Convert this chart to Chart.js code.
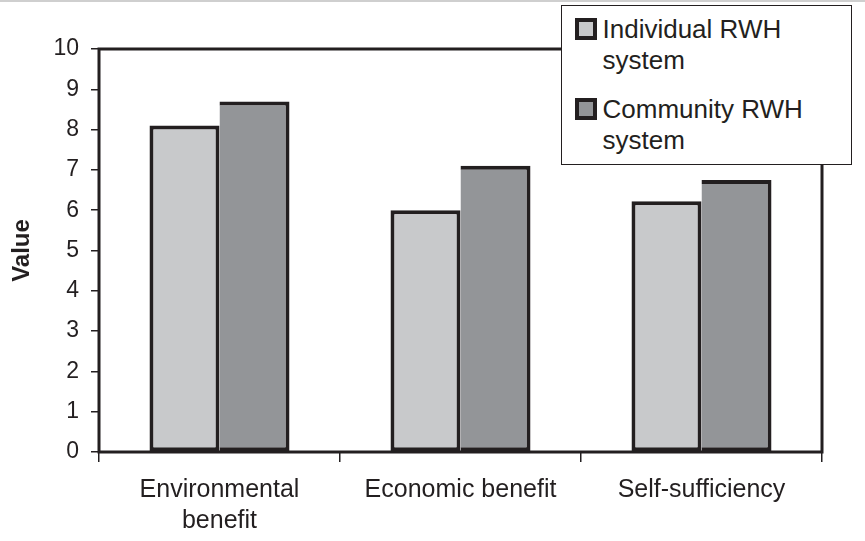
<!DOCTYPE html>
<html>
<head>
<meta charset="utf-8">
<script src="https://cdn.jsdelivr.net/npm/chart.js@4.4.1/dist/chart.umd.min.js"></script>
<style>
    body { margin: 0; background: #fff; font-family: "Liberation Sans", Arial, sans-serif; }
    #wrap { position: relative; width: 865px; height: 541px; }
    #topLine { position: absolute; left: 0; top: 0; width: 865px; height: 2px; background: #cfcfcf; }
    #legendBox {
        position: absolute; left: 561px; top: 5px; width: 289px; height: 158px;
        border: 1.5px solid #231f20; background: #fff; color: #231f20;
    }
    .item { position: absolute; left: 12.5px; font-size: 26px; line-height: 31px; }
    .swatch { position: absolute; left: 0; top: 3.5px; width: 14px; height: 14px; border: 4px solid #231f20; }
    .item span { position: absolute; left: 28px; top: 0; white-space: nowrap; }
</style>
</head>
<body>
<div id="wrap">
    <canvas id="rwhChart"></canvas>
    <div id="topLine"></div>
    <div id="legendBox"></div>
</div>
<script>
// Datos
const categories = [["Environmental", "benefit"], "Economic benefit", "Self-sufficiency"];
const individualValues = [8.1, 6.0, 6.22];
const communityValues = [8.7, 7.1, 6.75];
const seriesNames = [["Individual RWH", "system"], ["Community RWH", "system"]];
const yTicks = [0, 1, 2, 3, 4, 5, 6, 7, 8, 9, 10];

const INK = "#231f20";
const LIGHT = "#c8c9cb";
const DARK = "#939598";
const FONT = "'Liberation Sans', Arial, sans-serif";

// Marco completo alrededor del área del gráfico
const plotFrame = {
    id: "plotFrame",
    beforeDatasetsDraw(chart) {
        const { ctx, chartArea: a } = chart;
        ctx.save();
        ctx.strokeStyle = INK;
        ctx.lineWidth = 3;
        ctx.strokeRect(a.left, a.top, a.right - a.left, a.bottom - a.top);
        ctx.restore();
    }
};

const ctx = document.getElementById("rwhChart").getContext("2d");
const rwhChart = new Chart(ctx, {
    type: "bar",
    data: {
        labels: categories,
        datasets: [
            {
                label: seriesNames[0].join(" "),
                data: individualValues,
                backgroundColor: LIGHT,
                borderColor: INK,
                borderWidth: 4,
                borderSkipped: false
            },
            {
                label: seriesNames[1].join(" "),
                data: communityValues,
                backgroundColor: DARK,
                borderColor: INK,
                borderWidth: { top: 4, right: 4, bottom: 4, left: 0 },
                borderSkipped: false
            }
        ]
    },
    options: {
        responsive: true,
        maintainAspectRatio: false,
        animation: false,
        layout: { padding: { top: 49, right: 43, bottom: 0, left: 0 } },
        datasets: { bar: { categoryPercentage: 0.581, barPercentage: 1.0 } },
        plugins: {
            legend: { display: false },
            tooltip: { enabled: false }
        },
        scales: {
            x: {
                offset: true,
                border: { display: false },
                grid: { offset: true, drawOnChartArea: false, drawTicks: true, tickLength: 10, color: INK, lineWidth: 1.5 },
                ticks: {
                    color: INK,
                    padding: 12,
                    maxRotation: 0,
                    font: { family: FONT, size: 25, lineHeight: 1.25 }
                },
                afterFit: scale => { scale.height = 89; }
            },
            y: {
                min: 0,
                max: 10,
                border: { display: false },
                grid: { drawOnChartArea: false, drawTicks: true, tickLength: 8, color: INK, lineWidth: 1.5 },
                afterBuildTicks: scale => { scale.ticks = yTicks.map(v => ({ value: v })); },
                ticks: {
                    color: INK,
                    padding: 12,
                    font: { family: FONT, size: 23 }
                },
                title: {
                    display: true,
                    text: "Value",
                    color: INK,
                    padding: { top: 8, bottom: 0 },
                    font: { family: FONT, size: 24, weight: "bold" }
                },
                afterFit: scale => { scale.width = 99; }
            }
        }
    },
    plugins: [plotFrame]
});

// Leyenda en HTML construida desde los datasets
const legendBox = document.getElementById("legendBox");
const itemTops = [8, 88];
rwhChart.data.datasets.forEach((ds, i) => {
    const item = document.createElement("div");
    item.className = "item";
    item.style.top = itemTops[i] + "px";
    const sw = document.createElement("div");
    sw.className = "swatch";
    sw.style.background = ds.backgroundColor;
    const txt = document.createElement("span");
    txt.innerHTML = seriesNames[i].join("<br>");
    item.appendChild(sw);
    item.appendChild(txt);
    legendBox.appendChild(item);
});
</script>
</body>
</html>
